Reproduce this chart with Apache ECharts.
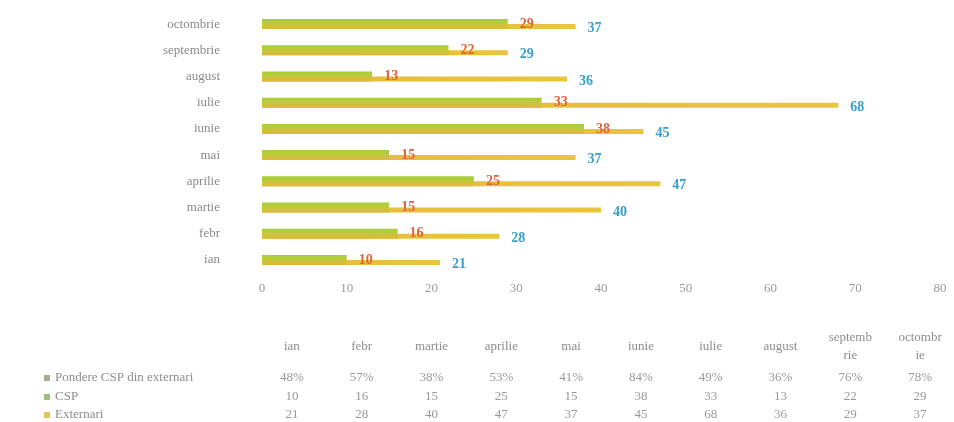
<!DOCTYPE html>
<html><head><meta charset="utf-8">
<script src="https://cdn.jsdelivr.net/npm/echarts@6/dist/echarts.min.js"></script>
<style>html,body{margin:0;padding:0;background:#fff}#c{width:954px;height:422px}</style>
</head><body><div id="c"></div>
<script>
// ---- data ----
const months = ['ian','febr','martie','aprilie','mai','iunie','iulie','august','septembrie','octombrie'];
const csp = [10,16,15,25,15,38,33,13,22,29];
const externari = [21,28,40,47,37,45,68,36,29,37];
const pondere = ['48%','57%','38%','53%','41%','84%','49%','36%','76%','78%'];
const rowNames = ['Pondere CSP din externari','CSP','Externari'];
const rowColors = ['#a9ad92','#a3bf7a','#e2c45a'];

const FONT = 'Liberation Serif';
const chart = echarts.init(document.getElementById('c'));

// table layout
const tblLeft = 257, colW = 69.8;
const headerY = 347;
const rowY = [378, 397, 415];
const rows = [pondere, csp, externari];
const graphic = [];
months.forEach((m, i) => {
  graphic.push({type:'text', silent:true, style:{text:m, x:tblLeft + colW*(i+0.5), y:headerY,
    align:'center', verticalAlign:'middle', width:45, overflow:'breakAll', lineHeight:18,
    font:'13px "' + FONT + '"', fill:'#8d8d8d'}});
});
rows.forEach((r, ri) => {
  graphic.push({type:'rect', silent:true, shape:{x:44, y:rowY[ri]-3, width:6, height:6}, style:{fill:rowColors[ri]}});
  graphic.push({type:'text', silent:true, style:{text:rowNames[ri], x:55, y:rowY[ri], align:'left', verticalAlign:'middle',
    font:'13px "' + FONT + '"', fill:'#8d8d8d'}});
  r.forEach((v, i) => {
    graphic.push({type:'text', silent:true, style:{text:String(v), x:tblLeft + colW*(i+0.5), y:rowY[ri],
      align:'center', verticalAlign:'middle', font:'13px "' + FONT + '"', fill:'#999'}});
  });
});

const cspColor = new echarts.graphic.LinearGradient(0,0,0,1,[
  {offset:0,color:'#a3d03a'},{offset:0.55,color:'#c6c83a'},{offset:1,color:'#e4b43a'}]);
const extColor = new echarts.graphic.LinearGradient(0,0,1,0,[
  {offset:0,color:'#e6b83a'},{offset:1,color:'#e9c53e'}]);

chart.setOption({
  animation:false,
  backgroundColor:'#fff',
  textStyle:{fontFamily:FONT},
  grid:{left:262, right:14, top:11, bottom:149},
  xAxis:{type:'value', min:0, max:80, interval:10,
    axisLine:{show:false}, axisTick:{show:false}, splitLine:{show:false},
    axisLabel:{color:'#9a9a9a', fontSize:13, fontFamily:FONT, margin:9}},
  yAxis:{type:'category', data:months,
    axisLine:{show:false}, axisTick:{show:false}, splitLine:{show:false},
    axisLabel:{color:'#8a8a8a', fontSize:13, fontFamily:FONT, margin:42}},
  series:[
    {name:'CSP', type:'bar', data:csp, barWidth:10, barGap:'-50%', z:3,
      itemStyle:{color:cspColor},
      label:{show:true, position:'right', distance:12, color:'#e0643a', fontWeight:'bold', fontSize:14, fontFamily:FONT}},
    {name:'Externari', type:'bar', data:externari, barWidth:5, barGap:'-50%', z:2,
      itemStyle:{color:extColor},
      label:{show:true, position:'right', distance:12, offset:[0,2], color:'#35a0cc', fontWeight:'bold', fontSize:14, fontFamily:FONT}}
  ],
  graphic:graphic
});
</script>
</body></html>
